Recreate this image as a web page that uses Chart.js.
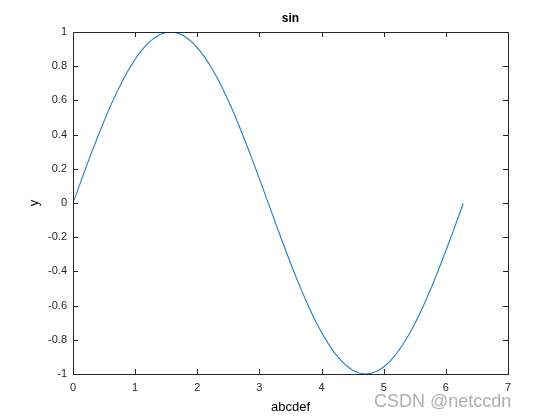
<!DOCTYPE html>
<html>
<head>
<meta charset="utf-8">
<script src="https://cdn.jsdelivr.net/npm/chart.js@4"></script>
<style>
  html, body { margin: 0; padding: 0; background: #fff; }
  #wrap { width: 560px; height: 420px; }
</style>
</head>
<body>
<div id="wrap"><canvas id="grafico" width="560" height="420"></canvas></div>
<script>
const xs = [0, 0.1, 0.2, 0.3, 0.4, 0.5, 0.6, 0.7, 0.8, 0.9, 1.0, 1.1, 1.2, 1.3, 1.4, 1.5,
  1.6, 1.7, 1.8, 1.9, 2.0, 2.1, 2.2, 2.3, 2.4, 2.5, 2.6, 2.7, 2.8, 2.9, 3.0, 3.1, 3.2,
  3.3, 3.4, 3.5, 3.6, 3.7, 3.8, 3.9, 4.0, 4.1, 4.2, 4.3, 4.4, 4.5, 4.6, 4.7, 4.8, 4.9,
  5.0, 5.1, 5.2, 5.3, 5.4, 5.5, 5.6, 5.7, 5.8, 5.9, 6.0, 6.1, 6.2, 6.28];
const ys = [0, 0.100, 0.199, 0.296, 0.389, 0.479, 0.565, 0.644, 0.717, 0.783, 0.841,
  0.891, 0.932, 0.964, 0.985, 0.997, 1.000, 0.992, 0.974, 0.946, 0.909, 0.863, 0.808,
  0.746, 0.675, 0.598, 0.516, 0.427, 0.335, 0.239, 0.141, 0.042, -0.058, -0.158,
  -0.256, -0.351, -0.443, -0.530, -0.612, -0.688, -0.757, -0.818, -0.872, -0.916,
  -0.952, -0.978, -0.994, -1.000, -0.996, -0.982, -0.959, -0.926, -0.883, -0.832,
  -0.773, -0.706, -0.631, -0.551, -0.465, -0.374, -0.279, -0.182, -0.083, -0.003];
const xTicks = [0, 1, 2, 3, 4, 5, 6, 7];
const yTicks = [-1, -0.8, -0.6, -0.4, -0.2, 0, 0.2, 0.4, 0.6, 0.8, 1];
const titulo = "sin";
const tituloX = "abcdef";
const tituloY = "y";
const marcaDagua = "CSDN @netccdn";

const fonte = "Liberation Sans, Arial, sans-serif";

// caixa, ticks para dentro e textos no estilo MATLAB
const estiloMatlab = {
  id: "estiloMatlab",
  afterDraw(chart) {
    const { ctx, chartArea: a, scales } = chart;
    ctx.save();
    ctx.strokeStyle = "#262626";
    ctx.lineWidth = 1;
    ctx.strokeRect(a.left + 0.5, a.top + 0.5, a.right - a.left, a.bottom - a.top);
    ctx.beginPath();
    xTicks.forEach(t => {
      const px = Math.round(scales.x.getPixelForValue(t)) + 0.5;
      ctx.moveTo(px, a.bottom); ctx.lineTo(px, a.bottom - 5);
      ctx.moveTo(px, a.top); ctx.lineTo(px, a.top + 5);
    });
    yTicks.forEach(t => {
      const py = Math.round(scales.y.getPixelForValue(t)) + 0.5;
      ctx.moveTo(a.left, py); ctx.lineTo(a.left + 5, py);
      ctx.moveTo(a.right, py); ctx.lineTo(a.right - 5, py);
    });
    ctx.stroke();

    ctx.fillStyle = "#000";
    ctx.textAlign = "center";
    ctx.textBaseline = "middle";
    ctx.font = "bold 12px " + fonte;
    ctx.fillText(titulo, (a.left + a.right) / 2, 19);
    ctx.font = "13px " + fonte;
    ctx.fillText(tituloX, (a.left + a.right) / 2, 407);
    ctx.save();
    ctx.translate(34, (a.top + a.bottom) / 2);
    ctx.rotate(-Math.PI / 2);
    ctx.fillText(tituloY, 0, 0);
    ctx.restore();

    ctx.fillStyle = "rgba(165,165,165,0.9)";
    ctx.textAlign = "left";
    ctx.font = "18px " + fonte;
    ctx.fillText(marcaDagua, 374, 402);
    ctx.restore();
  }
};

new Chart(document.getElementById("grafico").getContext("2d"), {
  type: "scatter",
  data: {
    datasets: [{
      data: xs.map((x, i) => ({ x, y: ys[i] })),
      showLine: true,
      borderColor: "#1f7ec2",
      borderWidth: 1.1,
      pointRadius: 0,
      tension: 0
    }]
  },
  options: {
    responsive: false,
    animation: false,
    layout: { padding: { left: 0, top: 32, right: 52, bottom: 0 } },
    plugins: { legend: { display: false }, tooltip: { enabled: false } },
    scales: {
      x: {
        type: "linear",
        min: 0, max: 7,
        afterBuildTicks: s => { s.ticks = xTicks.map(v => ({ value: v })); },
        afterFit: s => { s.height = 46; },
        border: { display: false },
        grid: { display: false, drawTicks: false },
        ticks: { color: "#262626", padding: 7, font: { family: fonte, size: 11 }, maxRotation: 0 }
      },
      y: {
        type: "linear",
        min: -1, max: 1,
        afterBuildTicks: s => { s.ticks = yTicks.map(v => ({ value: v })); },
        afterFit: s => { s.width = 73; },
        border: { display: false },
        grid: { display: false, drawTicks: false },
        ticks: {
          color: "#262626", padding: 6, font: { family: fonte, size: 11 },
          callback: v => String(Number(v.toFixed(1)))
        }
      }
    }
  },
  plugins: [estiloMatlab]
});
</script>
</body>
</html>
